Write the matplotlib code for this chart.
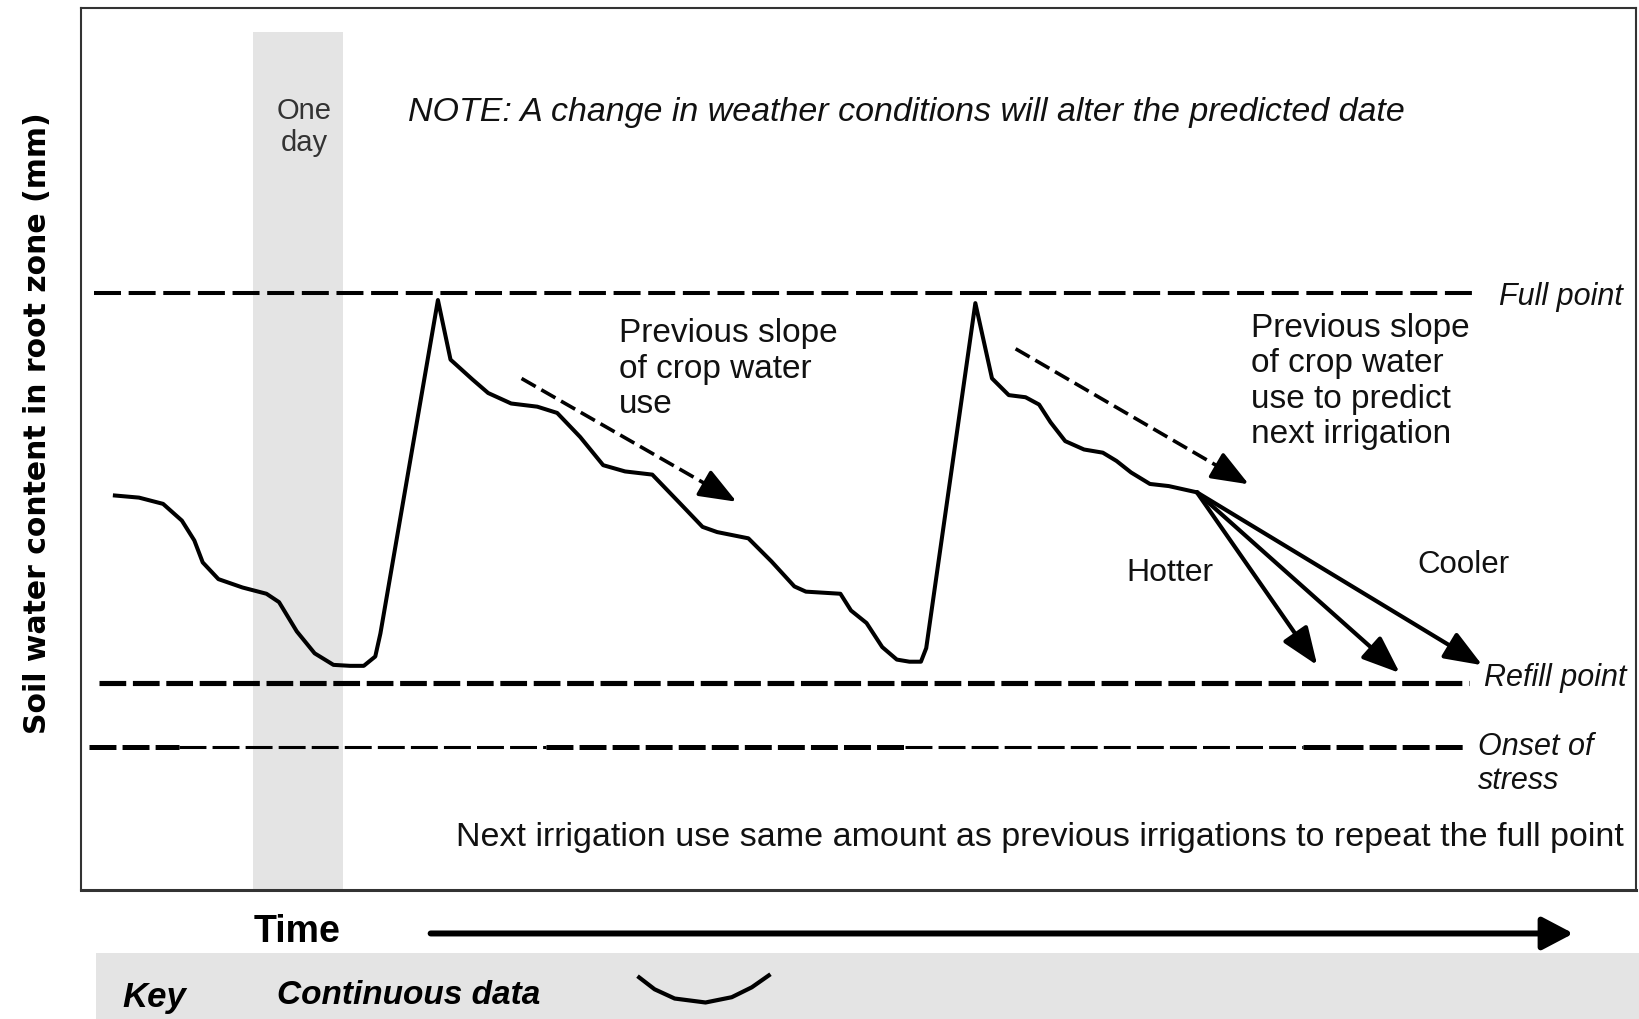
import matplotlib
matplotlib.use('Agg')
import matplotlib.pyplot as plt

plt.rcParams['font.family'] = ['Liberation Sans', 'DejaVu Sans']

# soil water curve (time 0-100, water content 0-100 across the box)
curve_time = [2.15, 3.70, 5.25, 6.46, 7.26, 7.80, 8.81, 10.36, 11.90, 12.71,
              13.85, 15.00, 16.21, 17.28, 18.16, 18.90, 19.23, 22.93, 23.74, 25.15,
              26.16, 27.64, 29.32, 30.60, 32.08, 33.56, 34.97, 36.72, 38.47, 39.95,
              40.89, 42.90, 44.38, 45.86, 46.60, 48.82, 49.50, 50.50, 51.51, 52.45,
              53.26, 54.00, 54.34, 57.50, 58.57, 59.65, 60.73, 61.60, 62.34, 63.28,
              64.49, 65.70, 66.58, 67.52, 68.73, 69.94, 71.75]
curve_water = [44.72, 44.48, 43.77, 41.87, 39.62, 37.13, 35.23, 34.28, 33.57, 32.62,
               29.30, 26.81, 25.50, 25.39, 25.39, 26.45, 29.06, 66.90, 60.14, 57.89,
               56.35, 55.16, 54.80, 54.09, 51.36, 48.16, 47.45, 47.09, 43.89, 41.16,
               40.57, 39.86, 37.25, 34.40, 33.81, 33.57, 31.67, 30.25, 27.52, 26.10,
               25.86, 25.86, 27.40, 66.55, 58.01, 56.11, 55.87, 55.04, 53.02, 50.89,
               49.94, 49.58, 48.64, 47.33, 46.03, 45.79, 45.08]

# reference levels
full_point = 67.73
refill_point = 23.49
onset_stress = 16.13
full_span = [0.81, 89.58]
refill_span = [1.14, 89.24]
onset_breaks = [0.47, 6.3, 29.9, 53.0, 78.6, 88.9]
onset_thick = [True, False, True, False, True]

one_day = [11.03, 16.81]
one_day_top = 97.27

# previous slope arrows (start, end)
slope_start_t = [28.31, 60.09]
slope_start_w = [58.00, 61.37]
slope_end_t = [42.14, 75.09]
slope_end_w = [44.01, 45.99]

# predicted slopes to next irrigation
branch_t, branch_w = 71.75, 45.08
predict_t = [79.49, 84.80, 90.11]
predict_w = [25.46, 24.58, 25.46]

# key sample curve
key_x = [0.352, 0.362, 0.375, 0.395, 0.412, 0.425, 0.436]
key_y = [0.63, 0.45, 0.31, 0.25, 0.33, 0.48, 0.66]

head = '-|>,head_length=1.15,head_width=0.45'
text_color = '#111111'

fig = plt.figure(figsize=(16.39, 10.19), dpi=100, facecolor='white')
ax = fig.add_axes([0.0497, 0.127, 0.9485, 0.8648])
ax.set_xlim(0, 100)
ax.set_ylim(0, 100)
ax.set_xticks([])
ax.set_yticks([])
for spine in ax.spines.values():
    spine.set_color('#333333')
    spine.set_linewidth(1.5)
ax.spines['bottom'].set_linewidth(2.2)

ax.fill_between(one_day, 0, one_day_top, color='#e4e4e4', lw=0, zorder=0)

ax.plot(full_span, [full_point] * 2, color='black', lw=2.9, ls=(0, (6.7, 1.9)))
ax.plot(refill_span, [refill_point] * 2, color='black', lw=3.7, ls=(0, (5.2, 1.3)))
for i, thick in enumerate(onset_thick):
    lw = 3.6 if thick else 2.2
    ax.plot(onset_breaks[i:i + 2], [onset_stress] * 2, color='black', lw=lw,
            ls=(0, (19.4 / lw, 4.4 / lw)))

ax.plot(curve_time, curve_water, color='black', lw=2.9, solid_joinstyle='round')

# dashed "previous slope" arrows: dashed shaft, solid head
for i in range(len(slope_start_t)):
    x0, y0 = slope_start_t[i], slope_start_w[i]
    x1, y1 = slope_end_t[i], slope_end_w[i]
    ax.plot([x0, x0 + 0.93 * (x1 - x0)], [y0, y0 + 0.93 * (y1 - y0)], color='black',
            lw=2.6, ls=(0, (4.5, 1.8)))
    ax.annotate('', xy=(x1, y1), xytext=(x0 + 0.9 * (x1 - x0), y0 + 0.9 * (y1 - y0)),
                arrowprops=dict(arrowstyle=head, mutation_scale=20, lw=2.6,
                                color='black', shrinkA=0, shrinkB=0))

for t, w in zip(predict_t, predict_w):
    ax.annotate('', xy=(t, w), xytext=(branch_t, branch_w),
                arrowprops=dict(arrowstyle=head, mutation_scale=20, lw=3.0,
                                color='black', shrinkA=0, shrinkB=0))

ax.text(14.32, 86.54, 'One\nday', ha='center', va='center', fontsize=21,
        color='#333333', linespacing=1.2)
ax.text(20.98, 88.14, 'NOTE: A change in weather conditions will alter the predicted date',
        ha='left', va='center', fontsize=24.5, style='italic', color=text_color)
ax.text(34.57, 59.07, 'Previous slope\nof crop water\nuse', ha='left', va='center',
        fontsize=24, linespacing=1.18, color=text_color)
ax.text(75.25, 57.65, 'Previous slope\nof crop water\nuse to predict\nnext irrigation',
        ha='left', va='center', fontsize=24, linespacing=1.18, color=text_color)
ax.text(70.0, 35.94, 'Hotter', ha='center', va='center', fontsize=23, color=text_color)
ax.text(88.90, 36.89, 'Cooler', ha='center', va='center', fontsize=22.5, color=text_color)
ax.text(95.16, 67.26, 'Full point', ha='center', va='center', fontsize=22,
        style='italic', color=text_color)
ax.text(94.82, 23.96, 'Refill point', ha='center', va='center', fontsize=22,
        style='italic', color=text_color)
ax.text(89.85, 14.23, 'Onset of\nstress', ha='left', va='center', fontsize=22,
        style='italic', linespacing=1.17, color=text_color)
ax.text(61.63, 5.93, 'Next irrigation use same amount as previous irrigations to repeat the full point',
        ha='center', va='center', fontsize=24.5, color=text_color)

ax.text(-2.85, 52.9, 'Soil water content in root zone (mm)', rotation=90, ha='center',
        va='center', fontsize=21.5, fontweight='bold', family='DejaVu Sans', clip_on=False)

# time arrow below the box
ax.annotate('', xy=(95.97, -4.98), xytext=(22.46, -4.98), annotation_clip=False,
            arrowprops=dict(arrowstyle='-|>,head_length=0.95,head_width=0.5',
                            mutation_scale=20, lw=4.3, color='black',
                            shrinkA=0, shrinkB=0))
ax.text(13.85, -4.86, 'Time', ha='center', va='center', fontsize=27,
        fontweight='bold', clip_on=False)

# key band
key_ax = fig.add_axes([0.0586, 0.0, 0.9414, 0.0648])
key_ax.set_facecolor('#e4e4e4')
key_ax.set_xlim(0, 1)
key_ax.set_ylim(0, 1)
key_ax.set_xticks([])
key_ax.set_yticks([])
for spine in key_ax.spines.values():
    spine.set_visible(False)
key_ax.text(0.017, 0.32, 'Key', ha='left', va='center', fontsize=25,
            fontweight='bold', style='italic')
key_ax.text(0.117, 0.35, 'Continuous data', ha='left', va='center', fontsize=24,
            fontweight='bold', style='italic')
key_ax.plot(key_x, key_y, color='black', lw=3)

plt.savefig('out.png', dpi=100, facecolor='white')
